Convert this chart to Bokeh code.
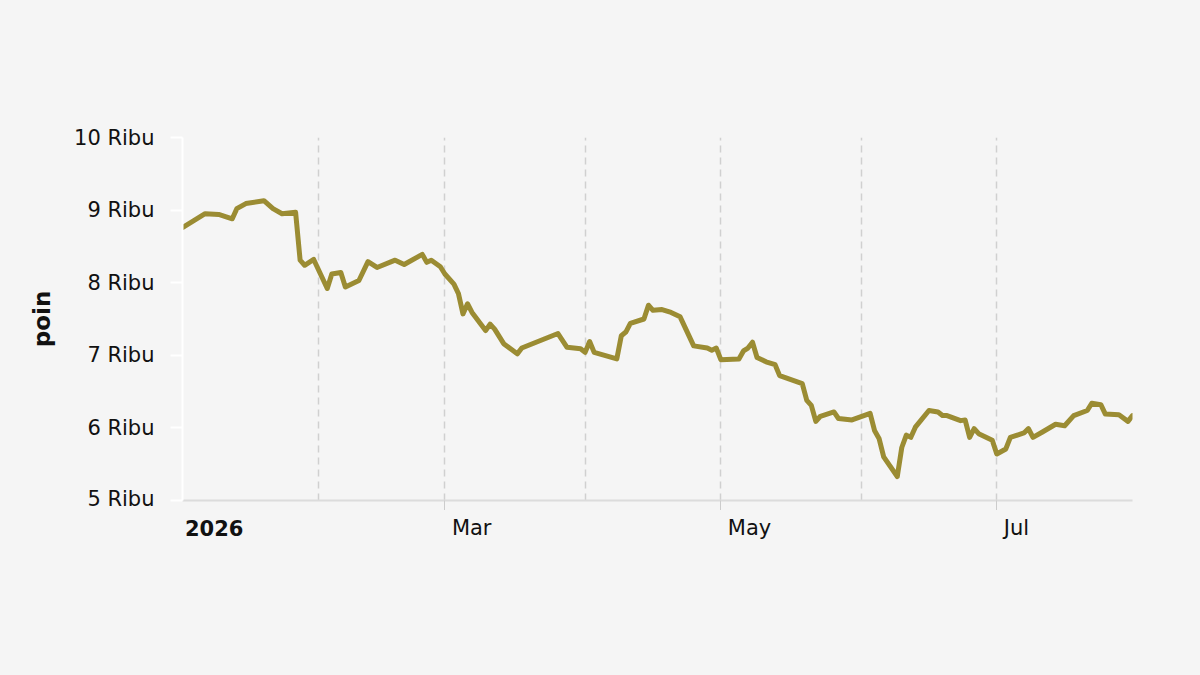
import pandas as pd
from bokeh.plotting import figure
from bokeh.layouts import column
from bokeh.models import Range1d, FixedTicker, ColumnDataSource
from bokeh.core.properties import value
from bokeh.embed import file_html
from bokeh.resources import INLINE

# ---- data (values in points) ----
dates = [
    "2026-01-02", "2026-01-07", "2026-01-10", "2026-01-13", "2026-01-14", "2026-01-16",
    "2026-01-20", "2026-01-22", "2026-01-24", "2026-01-27", "2026-01-28", "2026-01-29",
    "2026-01-31", "2026-02-03", "2026-02-04", "2026-02-06", "2026-02-07", "2026-02-10",
    "2026-02-12", "2026-02-14", "2026-02-18", "2026-02-20", "2026-02-24", "2026-02-25",
    "2026-02-26", "2026-02-28", "2026-03-01", "2026-03-03", "2026-03-04", "2026-03-05",
    "2026-03-06", "2026-03-07", "2026-03-10", "2026-03-11", "2026-03-12", "2026-03-14",
    "2026-03-17", "2026-03-18", "2026-03-26", "2026-03-28", "2026-03-31", "2026-04-01",
    "2026-04-02", "2026-04-03", "2026-04-08", "2026-04-09", "2026-04-10", "2026-04-11",
    "2026-04-14", "2026-04-15", "2026-04-16", "2026-04-18", "2026-04-20", "2026-04-22",
    "2026-04-25", "2026-04-28", "2026-04-29", "2026-04-30", "2026-05-01", "2026-05-05",
    "2026-05-06", "2026-05-07", "2026-05-08", "2026-05-09", "2026-05-11", "2026-05-13",
    "2026-05-14", "2026-05-19", "2026-05-20", "2026-05-21", "2026-05-22", "2026-05-23",
    "2026-05-26", "2026-05-27", "2026-05-30", "2026-06-03", "2026-06-04", "2026-06-05",
    "2026-06-06", "2026-06-09", "2026-06-10", "2026-06-11", "2026-06-12", "2026-06-13",
    "2026-06-16", "2026-06-18", "2026-06-19", "2026-06-20", "2026-06-23", "2026-06-24",
    "2026-06-25", "2026-06-26", "2026-06-27", "2026-06-30", "2026-07-01", "2026-07-03",
    "2026-07-04", "2026-07-07", "2026-07-08", "2026-07-09", "2026-07-11", "2026-07-14",
    "2026-07-16", "2026-07-18", "2026-07-21", "2026-07-22", "2026-07-24", "2026-07-25",
    "2026-07-28", "2026-07-30", "2026-07-31",
]
values = [
    8760, 8950, 8940, 8880, 9020, 9090,
    9130, 9020, 8950, 8970, 8310, 8240,
    8320, 7920, 8120, 8140, 7940, 8030,
    8290, 8210, 8310, 8250, 8390, 8280,
    8310, 8220, 8120, 7980, 7850, 7570,
    7710, 7590, 7340, 7430, 7360, 7160,
    7020, 7100, 7300, 7110, 7090, 7040,
    7190, 7040, 6950, 7270, 7320, 7440,
    7500, 7690, 7620, 7630, 7590, 7530,
    7130, 7100, 7070, 7100, 6940, 6950,
    7060, 7100, 7180, 6970, 6910, 6870,
    6720, 6610, 6380, 6310, 6090, 6160,
    6220, 6130, 6110, 6200, 5960, 5850,
    5600, 5330, 5730, 5900, 5870, 6010,
    6240, 6220, 6170, 6170, 6100, 6110,
    5870, 5990, 5920, 5830, 5640, 5710,
    5870, 5930, 5990, 5870, 5940, 6050,
    6030, 6170, 6240, 6340, 6320, 6190,
    6180, 6090, 6170,
]
y_ticks = [5000, 6000, 7000, 8000, 9000, 10000]
y_tick_labels = ["5 Ribu", "6 Ribu", "7 Ribu", "8 Ribu", "9 Ribu", "10 Ribu"]
x_label_dates = ["2026-01-01", "2026-03-01", "2026-05-01", "2026-07-01"]
x_label_texts = ["2026", "Mar", "May", "Jul"]
x_label_styles = ["bold", "normal", "normal", "normal"]
grid_dates = ["2026-02-01", "2026-03-01", "2026-04-01", "2026-05-01", "2026-06-01", "2026-07-01"]
x_start, x_end = "2026-01-02", "2026-07-31"
y_title = "poin"

BG = "#f5f5f5"
LINE = "#9b8c33"
FONT = "DejaVu Sans"
TXT = "#111111"


def ms(s):
    return pd.Timestamp(s).value / 1e6


src = ColumnDataSource(dict(date=pd.to_datetime(dates), value=values))
xr = Range1d(ms(x_start), ms(x_end))

# ---- main chart ----
p = figure(
    frame_width=950, frame_height=363, x_axis_type="datetime",
    output_backend="svg", toolbar_location=None,
    x_range=xr, y_range=Range1d(5000, 10000),
    min_border_left=182, min_border_right=68, min_border_top=137, min_border_bottom=10,
    background_fill_color=BG, border_fill_color=BG,
)
p.outline_line_color = None

ya = p.yaxis[0]
ya.ticker = FixedTicker(ticks=y_ticks)
ya.major_label_overrides = {t: l for t, l in zip(y_ticks, y_tick_labels)}
ya.axis_line_color = "white"
ya.axis_line_width = 2
ya.major_tick_line_color = "white"
ya.major_tick_line_width = 2
ya.major_tick_out = 12
ya.major_tick_in = 0
ya.minor_tick_line_color = None
ya.major_label_standoff = 16
ya.major_label_text_font = FONT
ya.major_label_text_font_size = "21px"
ya.major_label_text_color = TXT
ya.axis_label = y_title
ya.axis_label_text_font = FONT
ya.axis_label_text_font_size = "23px"
ya.axis_label_text_font_style = "bold"
ya.axis_label_text_color = TXT
ya.axis_label_standoff = 16

label_ticks = [ms(d) for d in x_label_dates]
xa = p.xaxis[0]
xa.ticker = FixedTicker(ticks=label_ticks)
xa.major_label_overrides = {t: "" for t in label_ticks}
xa.major_label_text_font_size = "0px"
xa.major_label_standoff = 0
xa.axis_line_color = "#dcdcdc"
xa.axis_line_width = 2
xa.major_tick_line_color = "#cccccc"
xa.major_tick_line_width = 1
xa.major_tick_out = 10
xa.major_tick_in = 0
xa.minor_tick_line_color = None

p.ygrid.grid_line_color = None
p.xgrid.ticker = FixedTicker(ticks=[ms(d) for d in grid_dates])
p.xgrid.grid_line_color = "#d0d0d0"
p.xgrid.grid_line_dash = "7 5"
p.xgrid.grid_line_width = 1.5

p.line(x="date", y="value", source=src, line_color=LINE, line_width=5,
       line_join="round", line_cap="round")

# ---- x tick labels strip (left-aligned to their ticks) ----
lab_src = ColumnDataSource(dict(
    date=pd.to_datetime(x_label_dates), text=x_label_texts,
    style=x_label_styles, y=[0] * len(x_label_dates),
))
p2 = figure(
    frame_width=950, frame_height=34, x_axis_type="datetime",
    output_backend="svg", toolbar_location=None,
    x_range=xr, y_range=Range1d(-1, 1),
    x_axis_location=None, y_axis_location=None,
    min_border_left=182, min_border_right=68, min_border_top=0, min_border_bottom=131,
    background_fill_color=None, border_fill_color=BG,
)
p2.outline_line_color = None
p2.grid.grid_line_color = None
p2.text(x="date", y="y", text="text", source=lab_src, x_offset=7,
        text_align="left", text_baseline="middle",
        text_font=value(FONT), text_font_size=value("21px"),
        text_font_style="style", text_color=TXT)

layout = column(p, p2, spacing=0, background=BG, styles={"background-color": BG})
open("out.html", "w").write(file_html(layout, INLINE))
